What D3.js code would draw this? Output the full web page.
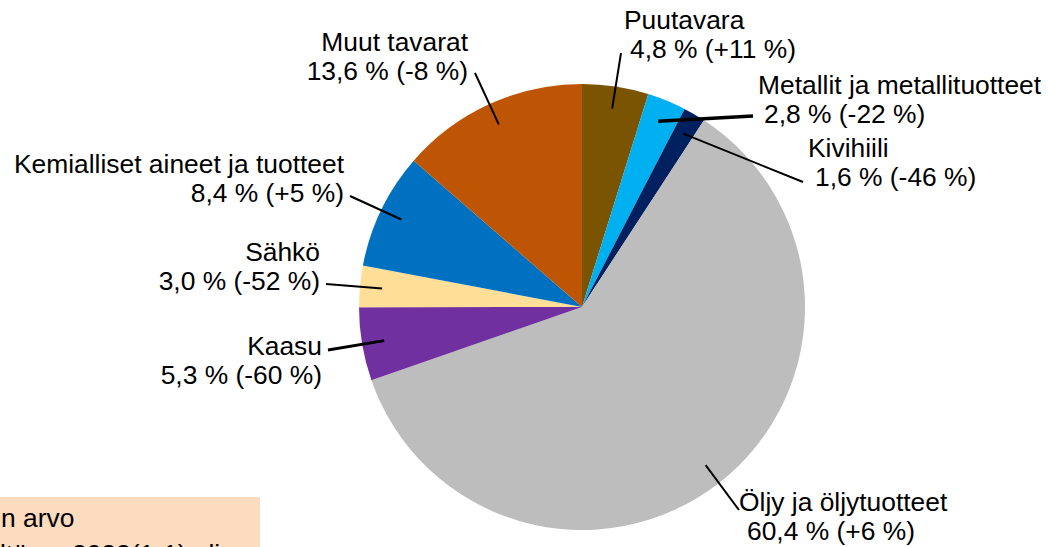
<!DOCTYPE html>
<html>
<head>
<meta charset="utf-8">
<script src="https://cdn.jsdelivr.net/npm/d3@7"></script>
<style>
  html, body { margin: 0; padding: 0; background: #fff; overflow: hidden; }
  svg { display: block; }
  text { font-family: "Liberation Sans", Arial, sans-serif; font-size: 26.4px; fill: #000; }
</style>
</head>
<body>
<svg id="chart" width="1048" height="547"></svg>
<script>
// ---- data ----
const categories = ["Puutavara", "Metallit ja metallituotteet", "Kivihiili", "Öljy ja öljytuotteet",
                    "Kaasu", "Sähkö", "Kemialliset aineet ja tuotteet", "Muut tavarat"];
const shares  = [4.8, 2.8, 1.6, 60.4, 5.3, 3.0, 8.4, 13.6];
const changes = ["+11", "-22", "-46", "+6", "-60", "-52", "+5", "-8"];
const colors  = ["#7A5400", "#00B0F0", "#002060", "#BCBDBC", "#7030A0", "#FFDF98", "#0070C0", "#BE5504"];

// ---- label layout (text anchor, first-line position, second-line x, leader outer end, leader width) ----
const labelLayout = [
  { anchor: "start", x: 624, y: 29, x2: 630, end: [621, 53],  w: 2 },
  { anchor: "start", x: 758, y: 94, x2: 764, end: [753, 116], w: 3.5 },
  { anchor: "start", x: 808, y: 157, x2: 815, end: [803, 182], w: 2 },
  { anchor: "start", x: 739, y: 511, x2: 747, end: [739, 510], w: 2 },
  { anchor: "end",   x: 322, y: 355, x2: 322, end: [328, 350], w: 2.8 },
  { anchor: "end",   x: 320, y: 261, x2: 320, end: [326, 284], w: 2 },
  { anchor: "end",   x: 344, y: 173, x2: 344, end: [350, 196], w: 2 },
  { anchor: "end",   x: 468, y: 51,  x2: 468, end: [475, 73],  w: 2 }
];
const lineGap = 29;

const svg = d3.select("#chart");
const cx = 582, cy = 307, R = 223;

const data = categories.map((c, i) => ({ name: c, value: shares[i], change: changes[i], color: colors[i], layout: labelLayout[i] }));

const pie = d3.pie().value(d => d.value).sort(null);
const arc = d3.arc().innerRadius(0).outerRadius(R);
const leaderArc = d3.arc().innerRadius(R * 0.9).outerRadius(R * 0.9);
const arcs = pie(data);

const g = svg.append("g").attr("transform", `translate(${cx},${cy})`);
g.selectAll("path.slice").data(arcs).join("path")
  .attr("class", "slice")
  .attr("d", arc)
  .attr("fill", d => d.data.color);

// leader lines
svg.append("g").selectAll("line").data(arcs).join("line")
  .attr("x1", d => cx + leaderArc.centroid(d)[0])
  .attr("y1", d => cy + leaderArc.centroid(d)[1])
  .attr("x2", d => d.data.layout.end[0])
  .attr("y2", d => d.data.layout.end[1])
  .attr("stroke", "#000")
  .attr("stroke-width", d => d.data.layout.w);

// labels
const fmt = v => d3.format(".1f")(v).replace(".", ",");
const labels = svg.append("g").selectAll("text").data(arcs).join("text")
  .attr("text-anchor", d => d.data.layout.anchor);
labels.append("tspan")
  .attr("x", d => d.data.layout.x)
  .attr("y", d => d.data.layout.y)
  .text(d => d.data.name);
labels.append("tspan")
  .attr("x", d => d.data.layout.x2)
  .attr("y", d => d.data.layout.y + lineGap)
  .text(d => `${fmt(d.data.value)} % (${d.data.change} %)`);

// clipped note box at bottom left
const note = svg.append("g");
note.append("rect").attr("x", 0).attr("y", 497).attr("width", 260).attr("height", 60).attr("fill", "#FDDBBF");
note.append("text").attr("x", 1).attr("y", 527).text("n arvo");
const l2 = note.append("text").attr("y", 563);
l2.append("tspan").attr("x", 0).text("ltä");
l2.append("tspan").attr("x", 72).text("2022(1-1) eli");
</script>
</body>
</html>
